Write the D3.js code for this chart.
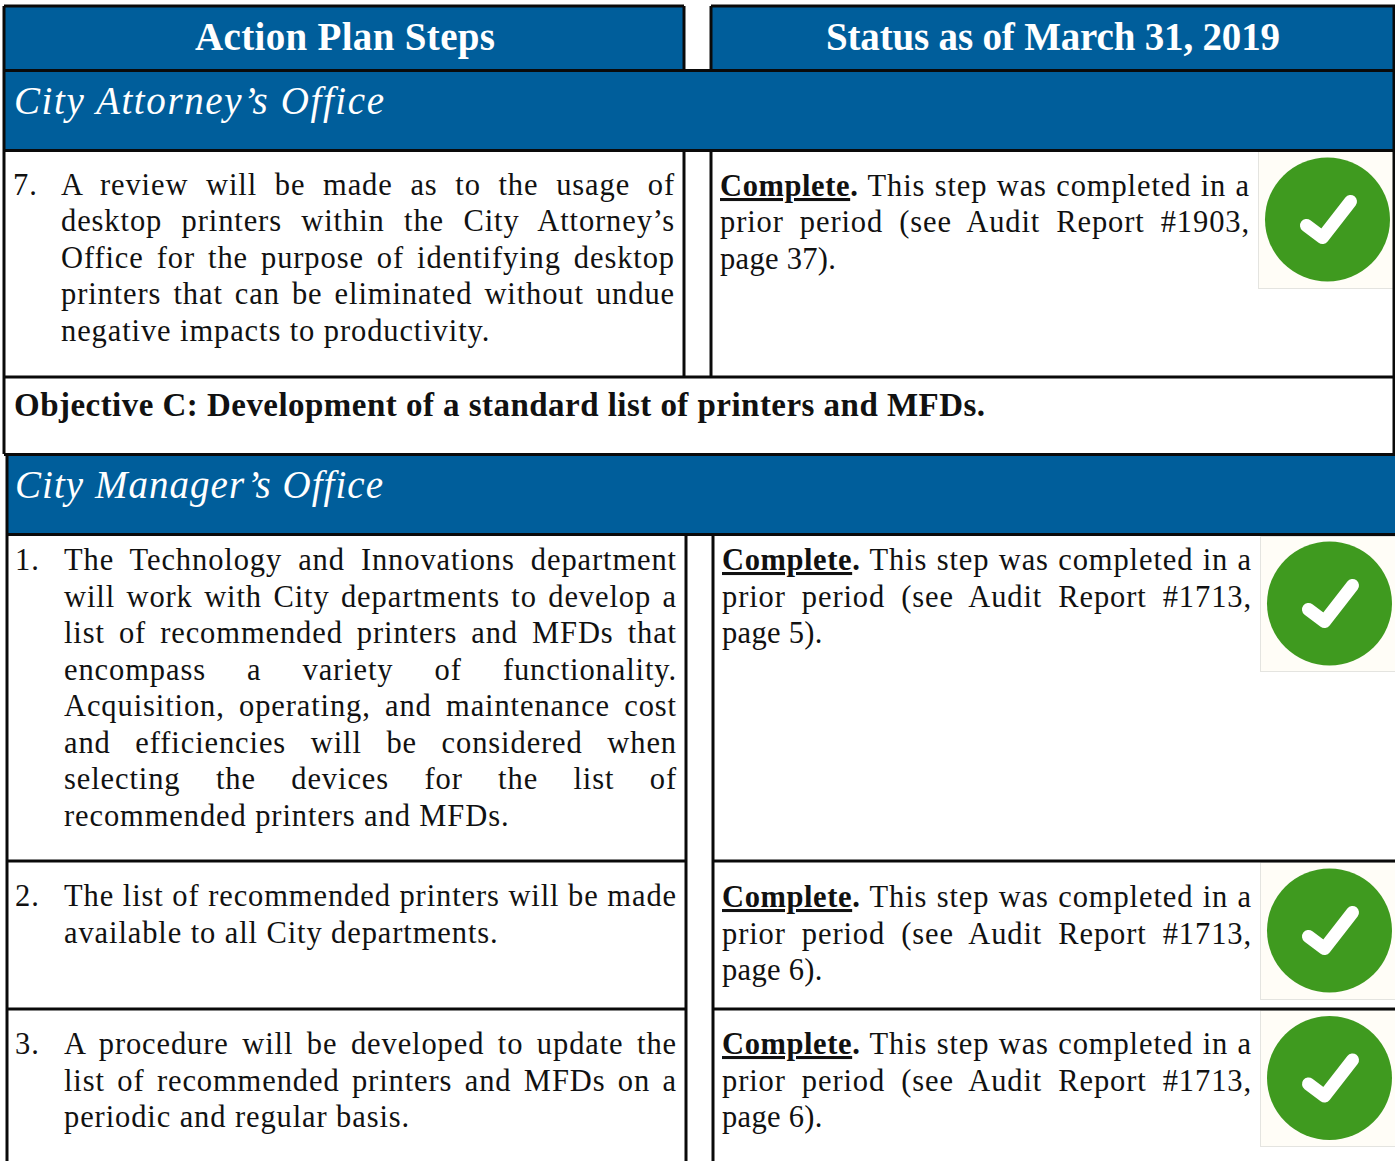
<!DOCTYPE html>
<html>
<head>
<meta charset="utf-8">
<style>
  html, body { margin: 0; padding: 0; background: #fff; }
  svg { display: block; }
</style>
<script src="https://cdn.jsdelivr.net/npm/d3@7"></script>
</head>
<body>
<div id="art"></div>
<script>
const headers = ["Action Plan Steps", "Status as of March 31, 2019"];
const offices = ["City Attorney\u2019s Office", "City Manager\u2019s Office"];
const objective = "Objective C: Development of a standard list of printers and MFDs.";
const stepNumbers = ["7.", "1.", "2.", "3."];

const stepLines = [
  ["A review will be made as to the usage of",
   "desktop printers within the City Attorney\u2019s",
   "Office for the purpose of identifying desktop",
   "printers that can be eliminated without undue",
   "negative impacts to productivity."],
  ["The Technology and Innovations department",
   "will work with City departments to develop a",
   "list of recommended printers and MFDs that",
   "encompass a variety of functionality.",
   "Acquisition, operating, and maintenance cost",
   "and efficiencies will be considered when",
   "selecting the devices for the list of",
   "recommended printers and MFDs."],
  ["The list of recommended printers will be made",
   "available to all City departments."],
  ["A procedure will be developed to update the",
   "list of recommended printers and MFDs on a",
   "periodic and regular basis."]
];

const statusWord = "Complete";
const statusFirst = " This step was completed in a";
const auditReports = ["#1903", "#1713", "#1713", "#1713"];
const auditPages = ["37", "5", "6", "6"];

// fitted widths, the reference face runs wider than Liberation Serif
const headerWidths = [300, 454];
const officeWidths = [370, 368];
const objectiveWidth = 971;

// layout of the two table blocks, the lower one sits 2px to the right
const blocks = [
  { left: 4, colA: 684, colB: 711 },
  { left: 6, colA: 686, colB: 713 }
];
// one entry per step: block, row edges, first baselines, icon box
const rows = [
  { block: 0, top: 150, bottom: 377, base: 195, statusBase: 196, pitch: 36.4, icon: [1258, 151, 288] },
  { block: 1, top: 534, bottom: 861, base: 570, statusBase: 570, pitch: 36.5, icon: [1260, 536, 671] },
  { block: 1, top: 861, bottom: 1009, base: 906, statusBase: 907, pitch: 36.5, icon: [1260, 862, 999] },
  { block: 1, top: 1009, bottom: 1163, base: 1054, statusBase: 1054, pitch: 36.5, icon: [1260, 1010, 1146] }
];

const style = {
  blue: "#005e9b",
  ink: "#111",
  green: "#3f9a1f",
  iconBack: "#fffdf7",
  iconEdge: "#e4e4e0",
  serif: "'Liberation Serif', serif",
  bodySize: 30.5,
  tracking: 0.9
};

function justify(sel, width) {
  sel.each(function () {
    const t = d3.select(this);
    const gaps = t.text().trim().split(/\s+/).length - 1;
    const natural = this.getComputedTextLength();
    if (gaps > 0) t.attr("word-spacing", (width - natural) / gaps);
  });
}

function bodyText(svg, x, y, str) {
  return svg.append("text")
    .attr("x", x).attr("y", y)
    .attr("font-size", style.bodySize)
    .attr("letter-spacing", style.tracking)
    .attr("fill", style.ink)
    .text(str);
}

function art() {
  const svg = d3.select("#art").append("svg")
    .attr("width", 1395).attr("height", 1161)
    .style("font-family", style.serif);

  // blue fills
  const fills = [
    [4, 6, 684, 70], [711, 6, 1395, 70],
    [blocks[0].left, 70, 1395, 150],
    [blocks[1].left, 454, 1395, 534]
  ];
  svg.selectAll("rect.fill").data(fills).enter().append("rect")
    .attr("class", "fill")
    .attr("x", d => d[0]).attr("y", d => d[1])
    .attr("width", d => d[2] - d[0]).attr("height", d => d[3] - d[1])
    .attr("fill", style.blue);

  // icons go under the rules
  const icons = svg.selectAll("g.icon").data(rows).enter().append("g").attr("class", "icon");
  icons.append("rect")
    .attr("x", d => d.icon[0] + 0.5).attr("y", d => d.icon[1] + 0.5)
    .attr("width", d => 1395 - d.icon[0]).attr("height", d => d.icon[2] - d.icon[1])
    .attr("fill", style.iconBack).attr("stroke", style.iconEdge);
  icons.append("ellipse")
    .attr("cx", d => d.icon[0] + 69.5).attr("cy", d => (d.icon[1] + d.icon[2]) / 2)
    .attr("rx", 62.5).attr("ry", 62)
    .attr("fill", style.green);
  icons.append("path")
    .attr("transform", d => `translate(${d.icon[0] + 69.5},${(d.icon[1] + d.icon[2]) / 2})`)
    .attr("d", d3.line()([[-21, 6], [-5, 18], [23, -18]]))
    .attr("fill", "none").attr("stroke", "#fff")
    .attr("stroke-width", 13).attr("stroke-linecap", "round").attr("stroke-linejoin", "round");

  // table rules
  const rules = [];
  const addRule = (x1, y1, x2, y2) => rules.push({ x1, y1, x2, y2 });
  addRule(4, 6, 684, 6); addRule(711, 6, 1395, 6);
  addRule(4, 6, 4, 454); addRule(684, 6, 684, 70); addRule(711, 6, 711, 70);
  addRule(1394, 6, 1394, 454);
  addRule(4, 70.5, 1395, 70.5); addRule(4, 150.5, 1395, 150.5);
  addRule(684, 150, 684, 377); addRule(711, 150, 711, 377);
  addRule(4, 377, 1395, 377);
  addRule(4, 454.5, 1395, 454.5); addRule(7, 534.5, 1395, 534.5);
  addRule(7, 454, 7, 1163);
  addRule(686, 534, 686, 1163); addRule(713, 534, 713, 1163);
  rows.slice(1, 3).forEach(r => {
    addRule(7, r.bottom, 686, r.bottom);
    addRule(713, r.bottom, 1395, r.bottom);
  });
  svg.selectAll("line.rule").data(rules).enter().append("line")
    .attr("class", "rule")
    .attr("x1", d => d.x1).attr("y1", d => d.y1)
    .attr("x2", d => d.x2).attr("y2", d => d.y2)
    .attr("stroke", "#0a0a0a").attr("stroke-width", 3);

  // header titles
  svg.selectAll("text.head").data(headers).enter().append("text")
    .attr("class", "head")
    .attr("x", (d, i) => i === 0 ? 345 : 1053).attr("y", 50)
    .attr("text-anchor", "middle")
    .attr("font-size", 39).attr("font-weight", 700)
    .attr("textLength", (d, i) => headerWidths[i]).attr("lengthAdjust", "spacing")
    .attr("fill", "#fff")
    .text(d => d);

  svg.selectAll("text.office").data(offices).enter().append("text")
    .attr("class", "office")
    .attr("x", (d, i) => i === 0 ? 14 : 15).attr("y", (d, i) => i === 0 ? 114 : 498)
    .attr("font-size", 39).attr("font-style", "italic")
    .attr("textLength", (d, i) => officeWidths[i]).attr("lengthAdjust", "spacing")
    .attr("fill", "#fff")
    .text(d => d);

  svg.append("text")
    .attr("x", 14).attr("y", 416)
    .attr("font-size", 33).attr("font-weight", 700)
    .attr("textLength", objectiveWidth).attr("lengthAdjust", "spacing")
    .attr("fill", style.ink)
    .text(objective);

  // step text
  rows.forEach((r, i) => {
    const b = blocks[r.block];
    const numX = b.left + 9;
    const textX = b.left + 57 + (r.block === 1 ? 1 : 0);
    bodyText(svg, numX, r.base, stepNumbers[i]);
    stepLines[i].forEach((line, k) => {
      const t = bodyText(svg, textX, r.base + k * r.pitch, line);
      if (k < stepLines[i].length - 1) justify(t, b.colA - 9 - textX);
    });

    // status text
    const sx = b.colB + 9;
    const sRight = r.icon[0] - 8;
    const first = bodyText(svg, sx, r.statusBase, null);
    first.append("tspan").attr("font-weight", 700).attr("letter-spacing", 0.6)
      .attr("text-decoration", "underline").text(statusWord);
    first.append("tspan").attr("font-weight", 700).text(".");
    first.append("tspan").text(statusFirst);
    justify(first, sRight - sx);
    const second = bodyText(svg, sx, r.statusBase + r.pitch, `prior period (see Audit Report ${auditReports[i]},`);
    justify(second, sRight - sx);
    bodyText(svg, sx, r.statusBase + 2 * r.pitch, `page ${auditPages[i]}).`)
      .attr("letter-spacing", 0.3);
  });
}

window.onload = function () {
  art();
};
</script>
</body>
</html>
